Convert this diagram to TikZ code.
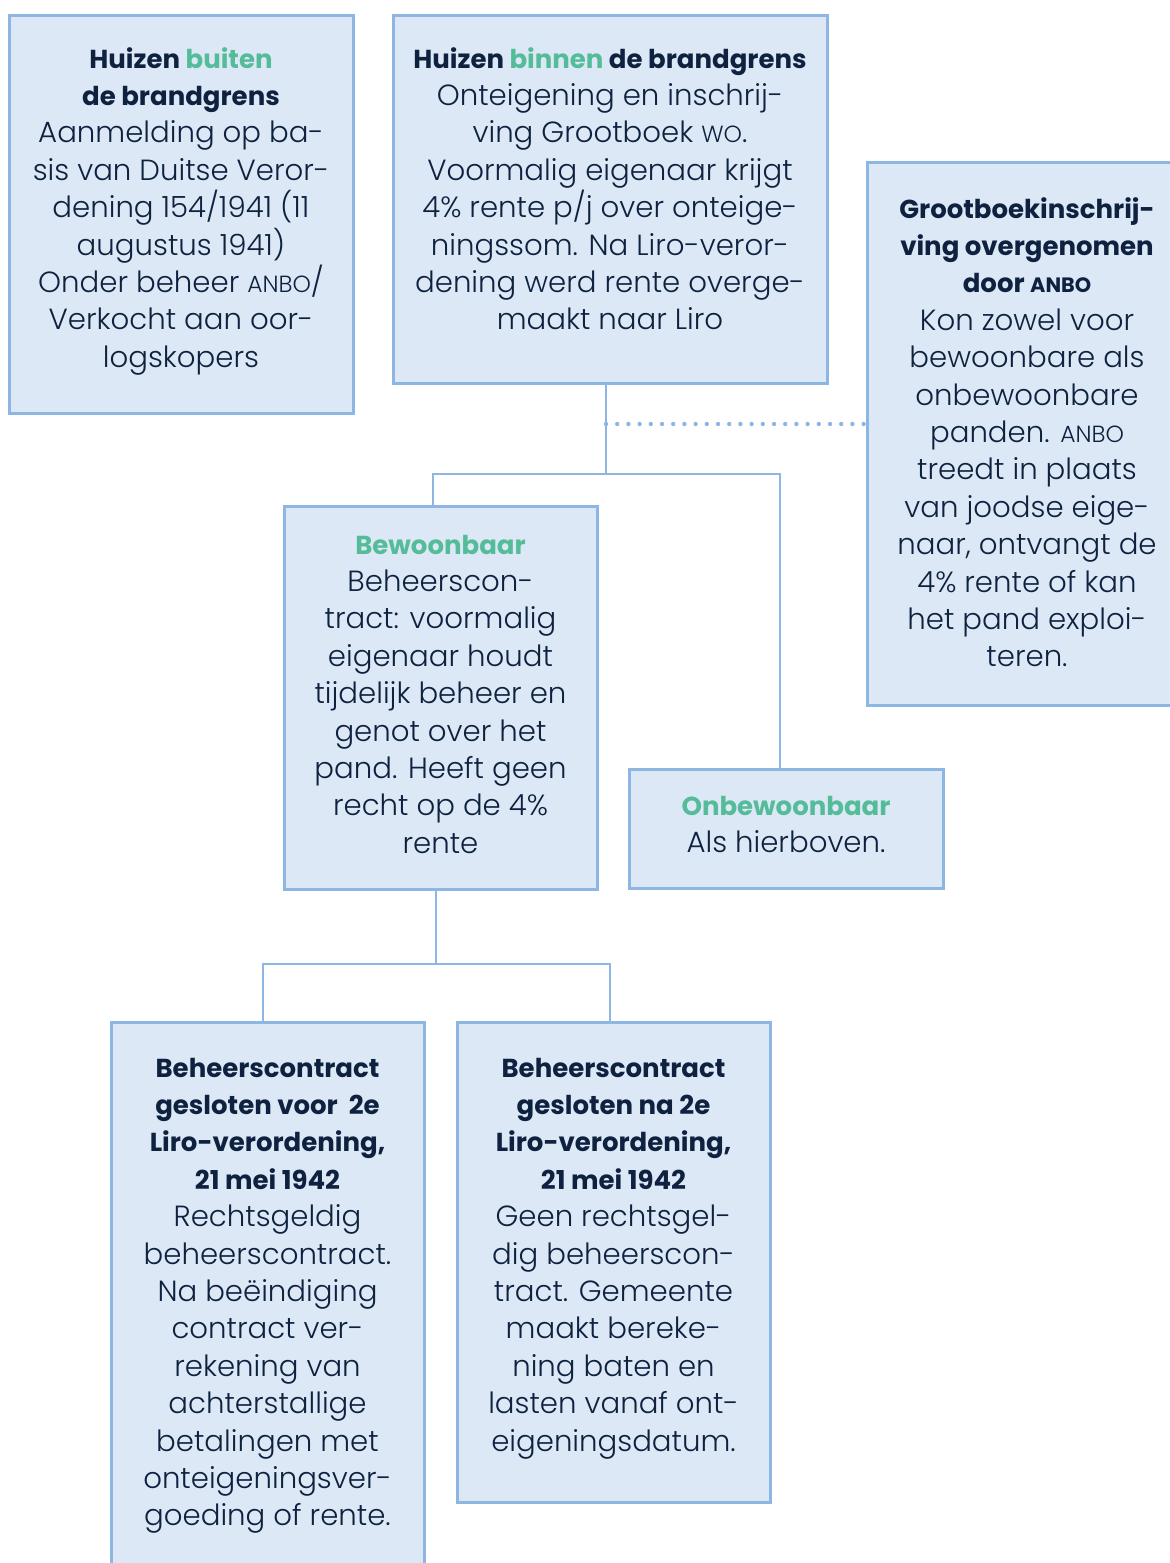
\documentclass[tikz,border=0pt]{standalone}
\usepackage{fontspec}
\setmainfont{Poppins}[UprightFont=* Light,BoldFont=* Bold]
\definecolor{vlak}{HTML}{DDE8F6}
\definecolor{rand}{HTML}{8DB6E3}
\definecolor{inkt}{HTML}{0E2240}
\definecolor{groen}{HTML}{55BC9A}
\newcommand\kap[1]{\scalebox{0.8}{#1}}
\newcommand\kop[1]{{\fontsize{13pt}{18.7pt}\selectfont\bfseries #1}}
\newcommand\vak[4]{\parbox[c][#2][t]{#1}{\centering\rule{0pt}{#3}#4\par}}

\begin{document}
\begin{tikzpicture}[x=0.5pt,y=-0.5pt,
  kader/.style={draw=rand,fill=vlak,line width=1.5pt,inner sep=0pt,outer sep=0pt,
    anchor=north west,text=inkt,font=\fontsize{14.6pt}{18.7pt}\selectfont},
  lijn/.style={draw=rand,line width=1.3pt},
  stippel/.style={draw=rand,line width=2.2pt,line cap=round,dash pattern=on 0pt off 5.6pt}]
  \useasboundingbox (0,0) rectangle (1170,1563);
  \node[kader] (buiten) at (9,15) {\vak{172pt}{199pt}{26.5pt}{%
    \kop{Huizen \textcolor{groen}{buiten}}\\ \kop{de brandgrens}\\
    Aanmelding op ba-\\ sis van Duitse Veror-\\ dening 154/1941 (11\\
    augustus 1941)\\ Onder beheer \kap{ANBO}/\\ Verkocht aan oor-\\ logskopers}};
  \node[kader] (binnen) at (393,15) {\vak{217pt}{184pt}{26.5pt}{%
    \kop{Huizen \textcolor{groen}{binnen} de brandgrens}\\
    Onteigening en inschrij-\\ ving Grootboek \kap{WO}.\\ Voormalig eigenaar krijgt\\
    4\% rente p/j over onteige-\\ ningssom. Na Liro-veror-\\
    dening werd rente overge-\\ maakt naar Liro}};
  \node[kader] (grootboek) at (867,162) {\vak{160pt}{271.5pt}{28pt}{%
    \kop{Grootboekinschrij-}\\ \kop{ving overgenomen}\\ \kop{door \kap{ANBO}}\\
    Kon zowel voor\\ bewoonbare als\\ onbewoonbare\\ panden. \kap{ANBO}\\
    treedt in plaats\\ van joodse eige-\\ naar, ontvangt de\\ 4\% rente of kan\\
    het pand exploi-\\ teren.}};
  \node[kader] (bewoonbaar) at (284,506) {\vak{156.5pt}{191.5pt}{24pt}{%
    \kop{\textcolor{groen}{Bewoonbaar}}\\ Beheerscon-\\ tract: voormalig\\
    eigenaar houdt\\ tijdelijk beheer en\\ genot over het\\ pand. Heeft geen\\
    recht op de 4\%\\ rente}};
  \node[kader] (onbewoonbaar) at (629,769) {\vak{157pt}{59.5pt}{23pt}{%
    \kop{\textcolor{groen}{Onbewoonbaar}}\\ Als hierboven.}};
  \node[kader] (voor) at (111,1022) {\vak{156.5pt}{284pt}{27.5pt}{%
    \kop{Beheerscontract}\\ \kop{gesloten voor\ \ 2e}\\ \kop{Liro-verordening,}\\
    \kop{21 mei 1942}\\ Rechtsgeldig\\ beheerscontract.\\ Na beëindiging\\
    contract ver-\\ rekening van\\ achterstallige\\ betalingen met\\
    onteigeningsver-\\ goeding of rente.}};
  \node[kader] (na) at (457,1022) {\vak{156.5pt}{240pt}{27.5pt}{%
    \kop{Beheerscontract}\\ \kop{gesloten na 2e}\\ \kop{Liro-verordening,}\\
    \kop{21 mei 1942}\\ Geen rechtsgel-\\ dig beheerscon-\\ tract. Gemeente\\
    maakt bereke-\\ ning baten en\\ lasten vanaf ont-\\ eigeningsdatum.}};
  \draw[lijn] ([xshift=-2pt]binnen.south) -- ++(0,91) coordinate (tak1);
  \draw[lijn] ([xshift=-3.75pt]bewoonbaar.north) |- (tak1) -| ([xshift=-3pt]onbewoonbaar.north);
  \draw[stippel] ([xshift=-2pt]binnen.south) ++(0,41) coordinate (stip) -- (stip -| grootboek.west);
  \draw[lijn] ([xshift=-2.25pt]bewoonbaar.south) -- ++(0,75) coordinate (tak2);
  \draw[lijn] ([xshift=-2.25pt]voor.north) |- (tak2) -| ([xshift=-1.75pt]na.north);
\end{tikzpicture}
\end{document}
